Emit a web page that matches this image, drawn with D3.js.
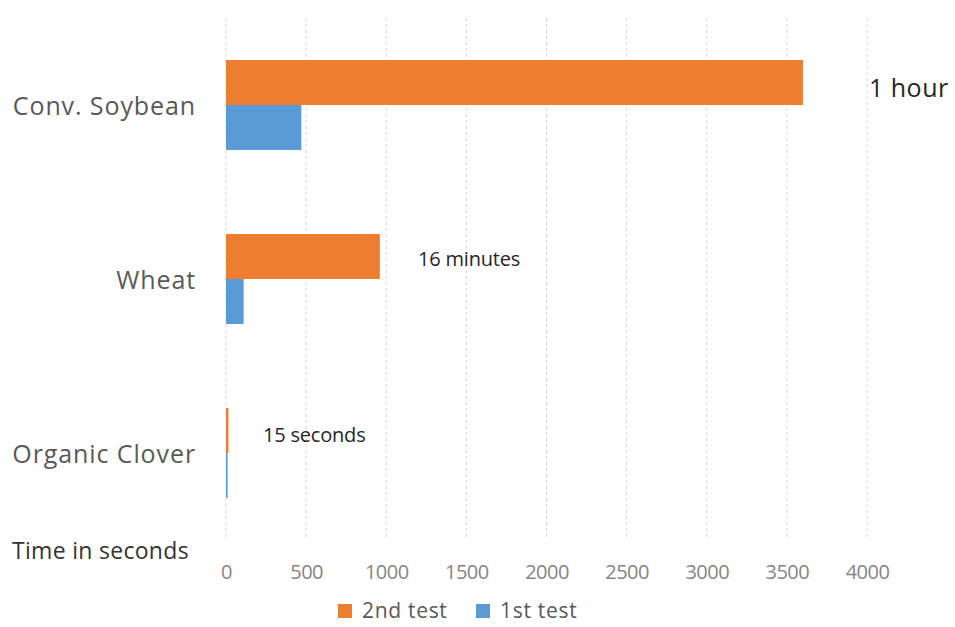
<!DOCTYPE html>
<html>
<head>
<meta charset="utf-8">
<script src="https://cdn.jsdelivr.net/npm/d3@7/dist/d3.min.js"></script>
<style>
  html, body { margin: 0; padding: 0; background: #fff; }
  svg { display: block; font-family: "Open Sans", "DejaVu Sans", sans-serif; }
</style>
</head>
<body>
<svg id="chart" width="955" height="627"></svg>
<script>
// Germination / infiltration time by crop (seconds)
const categories = ["Conv. Soybean", "Wheat", "Organic Clover"];
const seriesNames = ["2nd test", "1st test"];
const secondTest = [3600, 960, 15];
const firstTest = [470, 110, 10];
const xTicks = [0, 500, 1000, 1500, 2000, 2500, 3000, 3500, 4000];
const annotations = ["1 hour", "16 minutes", "15 seconds"];

const colors = { "2nd test": "#ED7D31", "1st test": "#5B9BD5" };

const svg = d3.select("#chart");
const plot = { left: 226, top: 18, bottom: 540 };

const x = d3.scaleLinear()
  .domain([0, 4000])
  .range([plot.left, plot.left + 641]);

const y = d3.scaleBand()
  .domain(categories)
  .range([plot.top, plot.bottom])
  .paddingInner(0.483)
  .paddingOuter(0.2414);

const ySub = d3.scaleBand()
  .domain(seriesNames)
  .range([0, y.bandwidth()]);

// dashed vertical gridlines
svg.append("g")
  .selectAll("line")
  .data(xTicks)
  .join("line")
  .attr("x1", d => x(d)).attr("x2", d => x(d))
  .attr("y1", plot.top).attr("y2", plot.bottom)
  .attr("stroke", "#d4d4d4")
  .attr("stroke-width", 1)
  .attr("stroke-dasharray", "3,3");

// bars
const rows = categories.map((c, i) => ({
  category: c,
  values: [
    { series: "2nd test", value: secondTest[i] },
    { series: "1st test", value: firstTest[i] }
  ]
}));

const groups = svg.append("g")
  .selectAll("g")
  .data(rows)
  .join("g")
  .attr("transform", d => `translate(0,${y(d.category)})`);

groups.selectAll("rect")
  .data(d => d.values)
  .join("rect")
  .attr("x", x(0))
  .attr("y", d => ySub(d.series))
  .attr("width", d => x(d.value) - x(0))
  .attr("height", ySub.bandwidth())
  .attr("fill", d => colors[d.series]);

// category labels
svg.append("g")
  .selectAll("text")
  .data(categories)
  .join("text")
  .attr("x", 196)
  .attr("y", d => y(d) + y.bandwidth() / 2)
  .attr("text-anchor", "end")
  .attr("dominant-baseline", "central")
  .attr("font-size", 25)
  .attr("letter-spacing", 0.9)
  .attr("fill", "#595959")
  .text(d => d);

// x axis tick labels
const xAxis = d3.axisBottom(x)
  .tickValues(xTicks)
  .tickSize(0)
  .tickPadding(0)
  .tickFormat(d3.format("d"));

const axisG = svg.append("g")
  .attr("transform", `translate(0,${plot.bottom})`)
  .call(xAxis);
axisG.select(".domain").remove();
axisG.selectAll("text")
  .attr("y", 32)
  .attr("dy", "0.35em")
  .attr("font-family", "'Open Sans', sans-serif")
  .attr("font-size", 20)
  .attr("letter-spacing", -0.5)
  .attr("fill", "#858585");

// axis title
svg.append("text")
  .attr("x", 12)
  .attr("y", 550)
  .attr("dominant-baseline", "central")
  .attr("font-size", 23)
  .attr("letter-spacing", 0.3)
  .attr("fill", "#333")
  .text("Time in seconds");

// value annotations next to the bars
const annoPos = [
  { x: 869, y: 87, size: 25, ls: 0.5 },
  { x: 418, y: 258, size: 20, ls: -0.2 },
  { x: 263, y: 434, size: 20, ls: -0.2 }
];
svg.append("g")
  .selectAll("text")
  .data(annotations)
  .join("text")
  .attr("x", (d, i) => annoPos[i].x)
  .attr("y", (d, i) => annoPos[i].y)
  .attr("dominant-baseline", "central")
  .attr("font-size", (d, i) => annoPos[i].size)
  .attr("letter-spacing", (d, i) => annoPos[i].ls)
  .attr("fill", "#262626")
  .text(d => d);

// legend
const legendItems = [
  { name: "2nd test", x: 338 },
  { name: "1st test", x: 476 }
];
const legend = svg.append("g")
  .selectAll("g")
  .data(legendItems)
  .join("g")
  .attr("transform", d => `translate(${d.x},610)`);
legend.append("rect")
  .attr("x", 0).attr("y", -6)
  .attr("width", 14).attr("height", 14)
  .attr("fill", d => colors[d.name]);
legend.append("text")
  .attr("x", 24)
  .attr("y", 0)
  .attr("dominant-baseline", "central")
  .attr("font-size", 21)
  .attr("letter-spacing", 0.7)
  .attr("fill", "#595959")
  .text(d => d.name);
</script>
</body>
</html>
